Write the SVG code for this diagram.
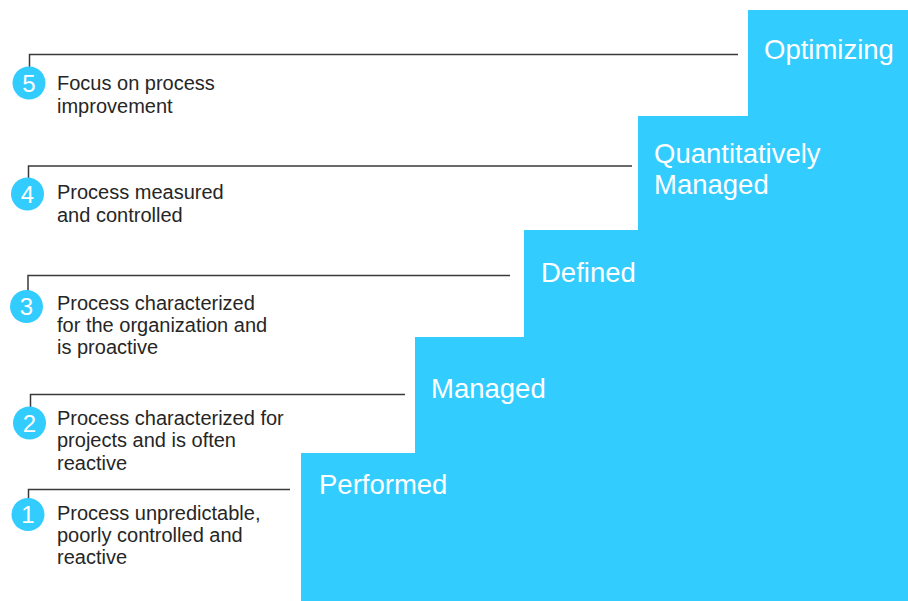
<svg xmlns="http://www.w3.org/2000/svg" width="908" height="601" viewBox="0 0 908 601">
<style>
.lbl{font-family:"Liberation Sans",Arial,sans-serif;font-size:20px;fill:#262626}
.step{font-family:"Liberation Sans",Arial,sans-serif;font-size:27.5px;fill:#ffffff}
.num{font-family:"Liberation Sans",Arial,sans-serif;font-size:24px;fill:#ffffff;text-anchor:middle}
.dot{fill:#33ccff}
.conn{fill:none;stroke:#3a3a3a;stroke-width:1.5}
</style>
<rect width="908" height="601" fill="#ffffff"/>
<polygon id="stairs" points="301,601 301,453 415,453 415,337 524,337 524,230 638,230 638,116 748,116 748,10 908,10 908,601" fill="#33ccff"/>
<g id="connectors">
<polyline class="conn" points="29.5,67 29.5,54.5 738,54.5"/>
<polyline class="conn" points="28.5,178 28.5,166 632,166"/>
<polyline class="conn" points="28,291 28,275.5 510,275.5"/>
<polyline class="conn" points="30.5,407 30.5,394.5 405,394.5"/>
<polyline class="conn" points="28.5,499 28.5,489.5 290,489.5"/>
</g>
<g id="step-optimizing"><text class="step" x="764" y="59">Optimizing</text></g>
<g id="step-quantitatively-managed"><text class="step" x="654" y="163">Quantitatively</text><text class="step" x="654" y="194">Managed</text></g>
<g id="step-defined"><text class="step" x="541" y="282">Defined</text></g>
<g id="step-managed"><text class="step" x="431" y="398">Managed</text></g>
<g id="step-performed"><text class="step" x="319" y="494">Performed</text></g>
<g id="level-5">
<circle class="dot" cx="29" cy="83" r="16.5"/><text class="num" x="29" y="91.5">5</text>
<text class="lbl" x="57" y="90">Focus on process</text>
<text class="lbl" x="57" y="112.5">improvement</text>
</g>
<g id="level-4">
<circle class="dot" cx="27.5" cy="194" r="16.5"/><text class="num" x="27.5" y="202.5">4</text>
<text class="lbl" x="57" y="199">Process measured</text>
<text class="lbl" x="57" y="222">and controlled</text>
</g>
<g id="level-3">
<circle class="dot" cx="26.5" cy="306.5" r="16.5"/><text class="num" x="26.5" y="315">3</text>
<text class="lbl" x="57" y="310">Process characterized</text>
<text class="lbl" x="57" y="332">for the organization and</text>
<text class="lbl" x="57" y="354">is proactive</text>
</g>
<g id="level-2">
<circle class="dot" cx="29.5" cy="423" r="16.5"/><text class="num" x="29.5" y="431.5">2</text>
<text class="lbl" x="57" y="425">Process characterized for</text>
<text class="lbl" x="57" y="447">projects and is often</text>
<text class="lbl" x="57" y="469.5">reactive</text>
</g>
<g id="level-1">
<circle class="dot" cx="28" cy="514.5" r="16.5"/><text class="num" x="28" y="523">1</text>
<text class="lbl" x="57" y="519.5">Process unpredictable,</text>
<text class="lbl" x="57" y="541.5">poorly controlled and</text>
<text class="lbl" x="57" y="563.5">reactive</text>
</g>
</svg>
